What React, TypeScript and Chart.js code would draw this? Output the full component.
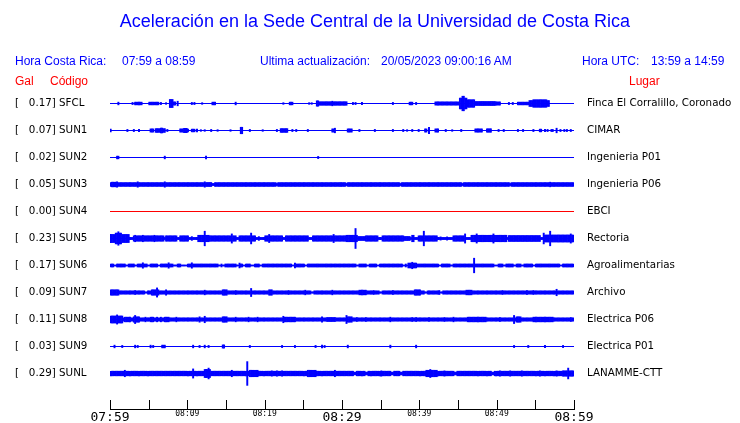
import React, { useEffect, useRef } from "react";
import { Chart, registerables } from "chart.js";

Chart.register(...registerables);

// ---------- text ----------
const TITLE = "Aceleración en la Sede Central de la Universidad de Costa Rica";
const HORA_CR_LABEL = "Hora Costa Rica:";
const HORA_CR_RANGE = "07:59 a 08:59";
const ACT_LABEL = "Ultima actualización:";
const ACT_VALUE = "20/05/2023 09:00:16 AM";
const HORA_UTC_LABEL = "Hora UTC:";
const HORA_UTC_RANGE = "13:59 a 14:59";

// ---------- stations ----------
const codes = ["SFCL", "SUN1", "SUN2", "SUN3", "SUN4", "SUN5", "SUN6", "SUN7", "SUN8", "SUN9", "SUNL"];
const galMax = ["0.17", "0.07", "0.02", "0.05", "0.00", "0.23", "0.17", "0.09", "0.11", "0.03", "0.29"];
const places = [
  "Finca El Corralillo, Coronado",
  "CIMAR",
  "Ingenieria P01",
  "Ingenieria P06",
  "EBCI",
  "Rectoria",
  "Agroalimentarias",
  "Archivo",
  "Electrica P06",
  "Electrica P01",
  "LANAMME-CTT",
];
const traceColors = ["#0000ff", "#0000ff", "#0000ff", "#0000ff", "#ff0000", "#0000ff", "#0000ff", "#0000ff", "#0000ff", "#0000ff", "#0000ff"];

// time axis (minutes after 07:59)
const timeTickLabels = ["07:59", "", "08:09", "", "08:19", "", "08:29", "", "08:39", "", "08:49", "", "08:59"];
const majorTimeLabels = ["07:59", "08:29", "08:59"];

// background amplitude of each trace (half band, in row units)
const baseAmp = [0, 0, 0, 0.07, 0, 0.04, 0.055, 0.06, 0.06, 0, 0.085];

// quieter stretches: [start min, end min, amplitude]
const sun3Gaps = [[13.2, 13.4, 0.04], [21.55, 21.6, 0.04], [30.6, 30.6, 0.04], [37.6, 37.6, 0.04], [45.6, 45.6, 0.04], [51.7, 51.7, 0.04]];
const sun6Gaps = [
  [0.56, 0.7, 0.019], [2.15, 2.3, 0.019], [3.23, 3.4, 0.019], [4.96, 5.1, 0.019], [6.25, 6.4, 0.019], [8.3, 8.5, 0.019],
  [9.27, 9.9, 0.019], [14.0, 14.2, 0.019], [14.65, 14.8, 0.019], [16.4, 16.6, 0.019], [17.2, 17.4, 0.019], [18.3, 18.5, 0.019],
  [19.4, 19.6, 0.019], [23.5, 23.7, 0.019], [25.2, 25.4, 0.019], [31.9, 32.1, 0.019], [33.2, 33.4, 0.019], [34.5, 34.7, 0.019],
  [37.9, 38.1, 0.019], [38.4, 38.5, 0.019], [42.5, 42.7, 0.019], [44.0, 44.2, 0.019], [49.8, 50.0, 0.019], [50.9, 51.1, 0.019],
  [52.2, 52.4, 0.019], [53.2, 53.4, 0.019], [54.7, 54.9, 0.019], [58.2, 58.4, 0.019],
];
const sun7Gaps = [[4.5, 4.7, 0.025], [26.1, 26.3, 0.025], [34.9, 35.1, 0.025], [40.7, 40.9, 0.025], [42.7, 42.9, 0.025]];
const sunlGaps = [[31.5, 31.7, 0.05], [33.0, 33.2, 0.05], [36.4, 36.6, 0.05], [37.5, 37.7, 0.05], [44.6, 44.8, 0.05], [49.4, 49.6, 0.05], [53.2, 53.3, 0.05]];

// bursts and spikes: [start min, end min, amplitude]
const sfclEvents = [
  [1.08, 1.08, 0.05], [2.9, 2.9, 0.04], [3.3, 4.0, 0.05], [5.0, 5.4, 0.05], [5.6, 6.2, 0.05], [6.55, 6.55, 0.04], [7.2, 7.2, 0.03],
  [7.8, 8.0, 0.15], [8.2, 8.4, 0.06], [8.75, 8.75, 0.085], [10.6, 10.6, 0.04], [10.9, 10.9, 0.04], [11.85, 11.85, 0.03],
  [13.2, 13.6, 0.05], [16.2, 16.2, 0.05], [22.4, 22.4, 0.03], [23.3, 23.6, 0.05], [25.7, 25.7, 0.03], [26, 26, 0.03],
  [26.7, 26.9, 0.1], [26.9, 30.6, 0.065], [28.7, 28.7, 0.085], [31.4, 31.4, 0.04], [31.8, 31.8, 0.04], [32.5, 32.5, 0.04],
  [36.6, 36.6, 0.04], [38.8, 39.0, 0.05], [39.6, 39.6, 0.04], [42.0, 45.3, 0.06], [45.3, 46.1, 0.2], [45.5, 45.7, 0.27],
  [46.1, 47.0, 0.14], [47.0, 49.8, 0.075], [49.8, 50.4, 0.06], [51.5, 51.5, 0.04], [52.1, 52.1, 0.04], [52.8, 54.3, 0.05],
  [54.3, 56.7, 0.11], [54.8, 56.4, 0.14],
];
const sun1Events = [
  [0.13, 0.13, 0.05], [2.25, 2.25, 0.04], [3.15, 3.15, 0.04], [3.8, 3.8, 0.04], [5.3, 5.65, 0.06], [5.9, 7.1, 0.07], [6.6, 6.8, 0.09],
  [7.45, 7.45, 0.04], [9.05, 9.35, 0.06], [9.55, 9.9, 0.08], [10.1, 10.1, 0.05], [10.5, 10.5, 0.05], [10.8, 10.9, 0.05],
  [11.2, 11.2, 0.05], [11.7, 11.7, 0.03], [12.3, 12.3, 0.03], [13.1, 13.1, 0.04], [13.9, 13.9, 0.03], [15.65, 15.65, 0.03],
  [16.9, 17.1, 0.12], [18.15, 18.15, 0.04], [19.8, 19.8, 0.03], [21.5, 21.5, 0.04], [22.1, 22.85, 0.07], [23.6, 23.6, 0.04],
  [24, 24, 0.04], [25.5, 25.5, 0.04], [28.7, 29.1, 0.06], [29.1, 29.1, 0.085], [30.8, 31.25, 0.06], [32.2, 32.2, 0.04],
  [34.3, 34.3, 0.04], [36.6, 36.6, 0.04], [37.85, 37.85, 0.04], [38.4, 38.4, 0.03], [39, 39, 0.04], [39.9, 39.9, 0.04],
  [40.7, 40.95, 0.06], [41.3, 41.3, 0.12], [42.0, 42.35, 0.06], [43.45, 43.45, 0.04], [44.2, 44.2, 0.03], [45.35, 45.35, 0.04],
  [47.3, 48.1, 0.06], [48.7, 49.2, 0.065], [50.2, 50.2, 0.04], [50.9, 50.9, 0.04], [52.8, 52.8, 0.04], [53.4, 53.4, 0.04],
  [54.7, 54.7, 0.04], [55.6, 55.8, 0.05], [56.2, 56.2, 0.04], [56.6, 56.6, 0.04], [57.0, 57.0, 0.04], [57.3, 57.3, 0.04],
  [57.75, 57.75, 0.085], [58.2, 58.2, 0.04], [58.7, 58.7, 0.04], [59.1, 59.1, 0.04], [59.5, 59.5, 0.04],
];
const sun2Events = [[0.85, 1.1, 0.05], [7.1, 7.1, 0.05], [12.4, 12.4, 0.05], [26.9, 26.9, 0.04]];
const sun3Events = [
  [0.2, 0.85, 0.086], [0.85, 0.85, 0.1], [3.5, 3.5, 0.1], [7.1, 7.1, 0.1], [12.2, 12.2, 0.1], [12.2, 13.15, 0.075],
  [29.95, 29.95, 0.075], [56.9, 56.9, 0.086], [57.45, 57.45, 0.075],
];
const sun4Events = [];
const sun5Events = [
  [0, 2.4, 0.15], [0.8, 1.4, 0.2], [1.1, 1.1, 0.25], [3.0, 6.9, 0.1], [3.2, 3.2, 0.12], [4.3, 4.3, 0.12], [5.8, 5.8, 0.12],
  [7.3, 8.6, 0.1], [9.05, 10.1, 0.1], [10.6, 10.6, 0.07], [11.4, 12.7, 0.12], [12.3, 12.3, 0.27], [12.7, 14.0, 0.1],
  [14.0, 16.2, 0.1], [15.7, 15.7, 0.17], [16.8, 18.8, 0.1], [18.2, 18.2, 0.2], [19.2, 19.2, 0.07], [20.0, 22.2, 0.1],
  [20.5, 20.5, 0.15], [22.8, 25.6, 0.1], [26.3, 30.4, 0.1], [28.9, 28.9, 0.15], [29.74, 30.6, 0.075], [30.6, 31.9, 0.12],
  [31.8, 31.8, 0.37], [31.9, 32.9, 0.075], [33.0, 34.5, 0.1], [35.3, 37.9, 0.1], [37.9, 38.8, 0.075], [39.0, 39.2, 0.12],
  [39.9, 42.2, 0.1], [40.5, 40.5, 0.27], [42.8, 42.8, 0.06], [43.6, 43.6, 0.06], [44.4, 45.7, 0.1], [45.9, 45.9, 0.17],
  [46.8, 51.3, 0.12], [47.4, 47.4, 0.17], [49.6, 49.6, 0.17], [51.5, 55.6, 0.11], [56.1, 60, 0.13], [56.1, 56.1, 0.2],
  [56.9, 56.9, 0.27], [59.5, 59.5, 0.17],
];
const sun6Events = [
  [4.2, 4.2, 0.1], [7.5, 7.5, 0.1], [10.5, 10.5, 0.1], [16.8, 16.8, 0.09], [23.9, 23.9, 0.09], [38.6, 39.6, 0.09],
  [39.0, 39.0, 0.12], [47.0, 47.0, 0.27],
];
const sun7Events = [
  [0, 1.1, 0.1], [3.2, 3.2, 0.075], [5.4, 6.3, 0.1], [6.0, 6.0, 0.17], [7.3, 7.3, 0.1], [12.3, 12.3, 0.086], [14.6, 15.1, 0.1],
  [16.2, 16.2, 0.075], [18.2, 18.2, 0.15], [20.5, 20.9, 0.1], [23.0, 23.0, 0.075], [25.2, 25.2, 0.086], [28.7, 28.7, 0.086],
  [32.3, 33.0, 0.086], [34.0, 34.0, 0.075], [36.6, 36.6, 0.075], [39.4, 40.1, 0.1], [42.5, 42.5, 0.075], [46.1, 46.8, 0.086],
  [50.7, 50.7, 0.075], [53.9, 53.9, 0.075], [54.7, 54.7, 0.075], [57.8, 57.8, 0.12],
];
const sun8Events = [
  [0, 1.5, 0.13], [0.85, 0.85, 0.17], [1.9, 2.6, 0.086], [3.0, 3.7, 0.1], [3.2, 3.2, 0.15], [4.5, 4.5, 0.086], [5.2, 5.5, 0.086],
  [6.0, 6.0, 0.086], [6.6, 6.6, 0.086], [7.0, 7.6, 0.086], [8.6, 8.6, 0.086], [11.6, 11.6, 0.1], [12.3, 12.3, 0.12],
  [14.6, 15.1, 0.1], [16.2, 16.2, 0.086], [17.9, 17.9, 0.086], [19.0, 19.0, 0.086], [22.4, 22.4, 0.12], [22.6, 23.9, 0.086],
  [27.4, 27.4, 0.1], [28.0, 29.1, 0.075], [30.6, 30.6, 0.15], [30.8, 31.3, 0.1], [31.9, 31.9, 0.075], [33.0, 33.0, 0.075],
  [36.2, 36.2, 0.086], [39.0, 39.0, 0.075], [39.6, 39.6, 0.075], [41.2, 41.2, 0.075], [43.3, 43.3, 0.075], [44.4, 44.4, 0.086],
  [46.3, 48.5, 0.086], [50.4, 50.4, 0.075], [52.2, 52.2, 0.15], [52.6, 53.0, 0.1], [54.7, 57.3, 0.086], [59.5, 59.5, 0.075],
];
const sun9Events = [
  [0.65, 0.65, 0.05], [1.6, 1.6, 0.04], [3.23, 3.23, 0.05], [3.66, 3.66, 0.04], [5.3, 5.3, 0.05], [5.6, 5.6, 0.04],
  [6.77, 7.1, 0.05], [10.8, 10.8, 0.05], [11.6, 11.6, 0.04], [12.3, 12.3, 0.05], [12.7, 12.7, 0.04], [14.65, 14.8, 0.06],
  [18.1, 18.1, 0.04], [22.2, 22.2, 0.04], [23.9, 23.9, 0.04], [26.5, 26.5, 0.04], [27.4, 27.4, 0.05], [27.8, 27.8, 0.04],
  [30.7, 30.7, 0.05], [36.2, 36.2, 0.05], [39.6, 39.6, 0.05], [52.2, 52.2, 0.04], [54.0, 54.0, 0.04], [56.25, 56.25, 0.04],
  [58.6, 58.6, 0.04],
];
const sunlEvents = [
  [1.85, 1.85, 0.12], [10.8, 10.8, 0.17], [12.3, 12.9, 0.15], [12.7, 12.7, 0.2], [15.7, 15.7, 0.12], [17.8, 17.8, 0.44],
  [18.0, 19.0, 0.12], [20.9, 20.9, 0.1], [21.6, 21.6, 0.1], [22.2, 22.2, 0.1], [25.6, 26.5, 0.12], [29.1, 29.1, 0.12],
  [35.1, 35.1, 0.1], [40.9, 42.2, 0.12], [41.4, 41.4, 0.15], [43.3, 43.3, 0.1], [50.4, 50.4, 0.1], [51.7, 51.7, 0.1],
  [53.2, 53.2, 0.1], [55.5, 55.5, 0.1], [57.7, 57.7, 0.1], [58.6, 60, 0.1], [59.3, 59.3, 0.2],
];

const stationGaps = [[], [], [], sun3Gaps, [], [], sun6Gaps, sun7Gaps, [], [], sunlGaps];
const stationEvents = [sfclEvents, sun1Events, sun2Events, sun3Events, sun4Events, sun5Events, sun6Events, sun7Events, sun8Events, sun9Events, sunlEvents];

const SPAN_MIN = 60;
const BINS_PER_MIN = 6;

function buildAmplitudes(base: number, gaps: number[][], events: number[][]): number[] {
  const n = SPAN_MIN * BINS_PER_MIN;
  const amps = new Array(n).fill(base);
  const idx = (t: number) => Math.min(n - 1, Math.max(0, Math.floor(t * BINS_PER_MIN)));
  for (const [t0, t1, v] of gaps) for (let k = idx(t0); k <= idx(t1); k++) amps[k] = v;
  for (const [t0, t1, v] of events) for (let k = idx(t0); k <= idx(t1); k++) amps[k] = Math.max(amps[k], v);
  return amps;
}

const leftLabels = codes.map((c, i) => `[   ${galMax[i]}] ${c}`);

const innerTicksPlugin = {
  id: "innerTicks",
  afterDraw(chart: any) {
    const xs = chart.scales.x;
    const { ctx, chartArea } = chart;
    ctx.save();
    ctx.strokeStyle = "#000";
    ctx.lineWidth = 1;
    ctx.beginPath();
    xs.ticks.forEach((t: any) => {
      const px = Math.round(xs.getPixelForValue(t.value)) + 0.5;
      ctx.moveTo(px, chartArea.bottom - 9);
      ctx.lineTo(px, chartArea.bottom);
    });
    ctx.stroke();
    ctx.restore();
  },
};

export default function App() {
  const canvasRef = useRef<HTMLCanvasElement | null>(null);

  useEffect(() => {
    if (!canvasRef.current) return;
    const datasets: any[] = [];
    codes.forEach((code, i) => {
      datasets.push({
        type: "line",
        label: code + " base",
        data: [
          { x: 0, y: i },
          { x: SPAN_MIN, y: i },
        ],
        borderColor: traceColors[i],
        borderWidth: 1,
        pointRadius: 0,
        xAxisID: "x",
        yAxisID: "y",
        order: 2,
      });
      const amps = buildAmplitudes(baseAmp[i], stationGaps[i], stationEvents[i]);
      const bars: any[] = [];
      amps.forEach((a, k) => {
        if (a > 0) bars.push({ x: (k + 0.5) / BINS_PER_MIN, y: [i - a, i + a] });
      });
      datasets.push({
        type: "bar",
        label: code,
        data: bars,
        backgroundColor: traceColors[i],
        borderWidth: 0,
        grouped: false,
        barPercentage: 1,
        categoryPercentage: 1,
        xAxisID: "x",
        yAxisID: "y",
        order: 1,
      });
    });

    const chart = new Chart(canvasRef.current, {
      type: "bar",
      data: { datasets },
      plugins: [innerTicksPlugin],
      options: {
        responsive: false,
        animation: false,
        events: [],
        layout: { padding: { left: 15, top: 90, right: 0, bottom: 0 } },
        plugins: { legend: { display: false }, tooltip: { enabled: false }, title: { display: false } },
        scales: {
          x: {
            type: "linear",
            position: "bottom",
            offset: false,
            min: 0,
            max: SPAN_MIN,
            grid: { display: false, drawTicks: false, offset: false },
            border: { display: true, color: "#000", width: 1 },
            afterFit: (s: any) => {
              s.height = 14;
            },
            ticks: {
              stepSize: 5,
              autoSkip: false,
              maxRotation: 0,
              minRotation: 0,
              padding: 0.5,
              color: "#000",
              callback: (v: any) => timeTickLabels[Math.round(Number(v) / 5)] ?? "",
              font: (ctx: any) => {
                const lbl = ctx.tick ? ctx.tick.label : "";
                return majorTimeLabels.includes(lbl)
                  ? { family: "DejaVu Sans Mono", size: 13 }
                  : { family: "DejaVu Sans Mono", size: 8 };
              },
            },
          },
          y: {
            type: "linear",
            position: "left",
            reverse: true,
            min: -0.5,
            max: -0.5 + 319 / 27,
            grid: { display: false, drawTicks: false },
            border: { display: false },
            afterBuildTicks: (s: any) => {
              s.ticks = codes.map((_, i) => ({ value: i }));
            },
            afterFit: (s: any) => {
              s.width = 95;
              s.paddingTop = 8;
              s.paddingBottom = 8;
            },
            ticks: {
              autoSkip: false,
              crossAlign: "far",
              color: "#000",
              font: { family: "DejaVu Sans", size: 10.3 },
              callback: (_v: any, i: number) => leftLabels[i],
            },
          },
          y2: {
            type: "linear",
            position: "right",
            reverse: true,
            min: -0.5,
            max: -0.5 + 319 / 27,
            grid: { display: false, drawTicks: false },
            border: { display: false },
            afterBuildTicks: (s: any) => {
              s.ticks = places.map((_, i) => ({ value: i }));
            },
            afterFit: (s: any) => {
              s.width = 166;
              s.paddingTop = 8;
              s.paddingBottom = 8;
            },
            ticks: {
              autoSkip: false,
              crossAlign: "near",
              padding: 13,
              color: "#000",
              font: { family: "DejaVu Sans", size: 10.3 },
              callback: (_v: any, i: number) => places[i],
            },
          },
        },
      } as any,
    });
    return () => chart.destroy();
  }, []);

  const sans = "'Liberation Sans', Arial, sans-serif";
  const hdr = (text: string, left: number, top: number, color: string) => (
    <div
      style={{
        position: "absolute",
        left,
        top,
        fontFamily: sans,
        fontSize: 12,
        lineHeight: "12px",
        color,
        whiteSpace: "pre",
      }}
    >
      {text}
    </div>
  );

  return (
    <div style={{ position: "absolute", left: 0, top: 0, width: 740, height: 423, overflow: "hidden", background: "#fff" }}>
      <canvas ref={canvasRef} width={740} height={423} style={{ position: "absolute", left: 0, top: 0 }} />
      <div
        style={{
          position: "absolute",
          left: 5,
          top: 12,
          width: 740,
          textAlign: "center",
          fontFamily: sans,
          fontSize: 18,
          lineHeight: "18px",
          color: "#0000ff",
          whiteSpace: "pre",
        }}
      >
        {TITLE}
      </div>
      {hdr(HORA_CR_LABEL, 15, 55, "#0000ff")}
      {hdr(HORA_CR_RANGE, 122, 55, "#0000ff")}
      {hdr(ACT_LABEL, 260, 55, "#0000ff")}
      {hdr(ACT_VALUE, 381, 55, "#0000ff")}
      {hdr(HORA_UTC_LABEL, 582, 55, "#0000ff")}
      {hdr(HORA_UTC_RANGE, 651, 55, "#0000ff")}
      {hdr("Gal", 15, 75, "#ff0000")}
      {hdr("Código", 50, 75, "#ff0000")}
      {hdr("Lugar", 629, 75, "#ff0000")}
    </div>
  );
}
